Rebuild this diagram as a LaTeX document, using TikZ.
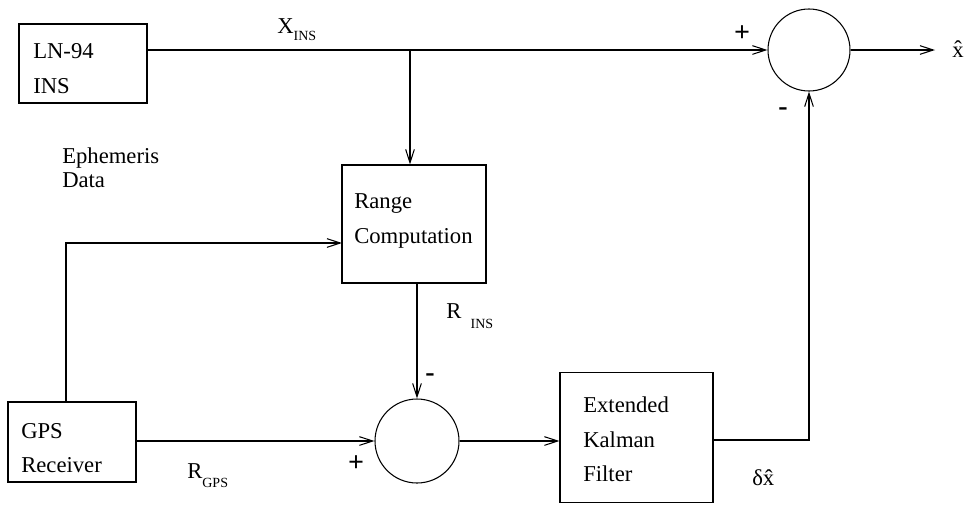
\documentclass[tikz,border=0pt]{standalone}
\usepackage{fontspec}
\setmainfont{Liberation Serif}
\usetikzlibrary{arrows.meta}
\newcommand{\mainsz}{\fontsize{17}{22}\selectfont}
\newcommand{\subsz}{\fontsize{10.5}{12}\selectfont}
\newcommand{\sgnsz}{\fontsize{21}{24}\selectfont}
\tikzset{
  blk/.style={draw, line width=0.8pt, inner sep=0pt},
  sumnode/.style={draw, circle, line width=0.8pt, inner sep=0pt},
  arr/.style={line width=0.8pt, -{Straight Barb[length=10pt,width=6.5pt,line width=0.8pt]}},
  txt/.style={anchor=base west, inner sep=0pt, font=\mainsz},
  sgn/.style={inner sep=0pt, font=\sgnsz\bfseries}
}
\begin{document}
\begin{tikzpicture}[x=0.75pt, y=-0.75pt]
\useasboundingbox (0,0) rectangle (966,504);
% blocks
\node[blk, minimum width=96pt, minimum height=59.25pt] (ins) at (83,63.5) {};
\node[blk, minimum width=108pt, minimum height=88.5pt] (range) at (414,224) {};
\node[blk, minimum width=96pt, minimum height=60pt] (gps) at (72,442) {};
\node[blk, minimum width=114.75pt, minimum height=97pt] (ekf) at (636.5,437.5) {};
\node[sumnode, minimum size=61.5pt] (sumT) at (809,50) {};
\node[sumnode, minimum size=63pt] (sumB) at (417,441) {};
% block texts
\node[txt] (t1) at (33,58) {LN-94};
\node[txt] (t2) at (33,93) {INS};
\node[txt] (t3) at (354,208) {Range};
\node[txt] (t4) at (354,243) {Computation};
\node[txt] (t5) at (21,438) {GPS};
\node[txt] (t6) at (21,472) {Receiver};
\node[txt] (t7) at (583,412) {Extended};
\node[txt] (t8) at (583,447) {Kalman};
\node[txt] (t9) at (583,481) {Filter};
\node[txt] (t10) at (62,163) {Ephemeris};
\node[txt] (t11) at (62,187) {Data};
% coordinates
\coordinate (br) at (410,50);
\coordinate (gpsup) at (66,402);
\coordinate (ephin) at (342,243);
\coordinate (out) at (935,50);
% connectors
\draw[arr] (ins.east |- sumT.west) -- (sumT.west);
\draw[arr] (br) -- (br |- range.north);
\draw[arr] (gpsup) |- (ephin);
\draw[arr] (range.south -| sumB.north) -- (sumB.north);
\draw[arr] (gps.east |- sumB.west) -- (sumB.west);
\draw[arr] (sumB.east) -- (sumB.east -| ekf.west);
\draw[arr] (ekf.east |- 0,440) -| (sumT.south);
\draw[arr] (sumT.east) -- (out);
% signal labels
\node[txt] (lx) at (277,33) {X\raisebox{-5.25pt}{\subsz INS}};
\node[txt] (lri) at (446,318) {R\hspace{7pt}\raisebox{-7.5pt}{\subsz INS}};
\node[txt] (lrg) at (187,478) {R\raisebox{-6.75pt}{\subsz GPS}};
\node[txt] (ldx) at (752,485) {δ\^{x}};
\node[txt] (lxh) at (952,57) {\^{x}};
% signs
\node[sgn] (p1) at (742,34) {+};
\node[sgn] (m1) at (783,112) {-};
\node[sgn] (p2) at (356,464) {+};
\node[sgn] (m2) at (430,378) {-};
\end{tikzpicture}
\end{document}
